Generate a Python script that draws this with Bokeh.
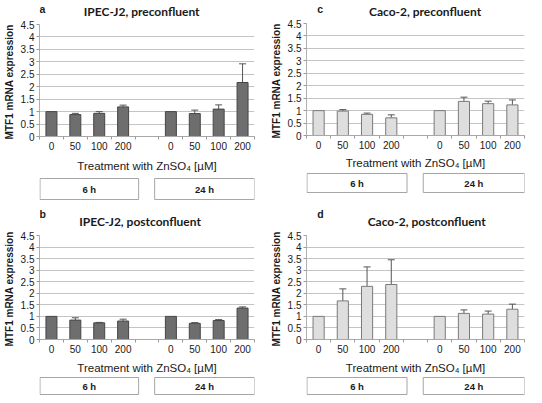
from bokeh.plotting import figure
from bokeh.models import Range1d, FixedTicker, Whisker, ColumnDataSource, TeeHead
from bokeh.layouts import column, row
from bokeh.embed import file_html
from bokeh.resources import INLINE
from bokeh.core.properties import value

# ---- data ----
doses = ["0", "50", "100", "200", "", "0", "50", "100", "200"]
groups = ["6 h", "24 h"]
y_ticks = [0, 0.5, 1, 1.5, 2, 2.5, 3, 3.5, 4, 4.5]
titles = ["IPEC-J2, preconfluent", "Caco-2, preconfluent",
          "IPEC-J2, postconfluent", "Caco-2, postconfluent"]
letters = ["a", "c", "b", "d"]

# order: 6 h (0, 50, 100, 200), 24 h (0, 50, 100, 200)
a_vals = [1.0, 0.88, 0.93, 1.19, 1.0, 0.92, 1.10, 2.17]
a_err = [0.0, 0.05, 0.07, 0.07, 0.0, 0.14, 0.17, 0.75]
c_vals = [1.0, 0.98, 0.85, 0.71, 1.0, 1.37, 1.28, 1.23]
c_err = [0.0, 0.06, 0.05, 0.12, 0.0, 0.17, 0.10, 0.20]
b_vals = [1.0, 0.84, 0.72, 0.80, 1.0, 0.70, 0.82, 1.36]
b_err = [0.0, 0.10, 0.02, 0.08, 0.0, 0.03, 0.04, 0.05]
d_vals = [1.0, 1.67, 2.30, 2.38, 1.0, 1.13, 1.10, 1.31]
d_err = [0.0, 0.52, 0.84, 1.07, 0.0, 0.15, 0.13, 0.22]

TXT = "#1a1a1a"
SANS = "Liberation Sans"
W = 263


def bare(width, height, xr, yr, left=0, right=0):
    p = figure(width=width, height=height, x_range=xr, y_range=yr,
               output_backend="svg", toolbar_location=None,
               min_border_left=left, min_border_right=right,
               min_border_top=0, min_border_bottom=0)
    p.axis.visible = False
    p.grid.visible = False
    p.outline_line_color = None
    return p


def header(letter, title, height, letter_x, title_x, base_y, letter_y):
    p = bare(W, height, Range1d(0, W), Range1d(0, height))
    p.text(x=[letter_x], y=[letter_y], text=[letter], text_align="left",
           text_baseline="alphabetic", text_font=value(SANS),
           text_font_style="bold", text_font_size="10.5px", text_color=TXT)
    p.text(x=[title_x], y=[base_y], text=[title], text_align="center",
           text_baseline="alphabetic", text_font=value("Lato"),
           text_font_style="bold", text_font_size="12px", text_color=TXT)
    return p


def main_panel(vals, errs, fill, line, left, right, top, frame_h, bottom,
               label_standoff):
    cats = list(range(len(doses)))
    xs = [c for c, d in zip(cats, doses) if d != ""]
    p = figure(width=W, height=top + frame_h + bottom,
               x_range=Range1d(-0.5, len(doses) - 0.5),
               y_range=Range1d(0, 4.5),
               output_backend="svg", toolbar_location=None,
               min_border_left=left, min_border_right=right,
               min_border_top=top, min_border_bottom=bottom)
    p.outline_line_color = None

    src = ColumnDataSource(dict(x=xs, top=vals))
    p.vbar(x="x", top="top", bottom=0, width=0.46, source=src,
           fill_color=fill, line_color=line, line_width=1)

    esrc = ColumnDataSource(dict(
        x=[x for x, e in zip(xs, errs) if e > 0],
        lo=[v for v, e in zip(vals, errs) if e > 0],
        hi=[v + e for v, e in zip(vals, errs) if e > 0]))
    w = Whisker(base="x", lower="lo", upper="hi", source=esrc,
                line_color="#555555", line_width=1,
                upper_head=TeeHead(size=7, line_color="#555555", line_width=1),
                lower_head=None)
    p.add_layout(w)

    ya = p.yaxis[0]
    ya.ticker = FixedTicker(ticks=y_ticks)
    ya.minor_tick_line_color = None
    ya.major_tick_out = 3
    ya.major_tick_in = 0
    ya.major_tick_line_color = "#9a9a9a"
    ya.axis_line_color = "#b0b0b0"
    ya.major_label_text_font = SANS
    ya.major_label_text_font_size = "10px"
    ya.major_label_text_color = TXT
    ya.major_label_standoff = 2
    ya.axis_label = "MTF1 mRNA  expression"
    ya.axis_label_text_font = SANS
    ya.axis_label_text_font_style = "bold"
    ya.axis_label_text_font_size = "10px"
    ya.axis_label_text_color = TXT
    ya.axis_label_standoff = 3

    xa = p.xaxis[0]
    xa.ticker = FixedTicker(ticks=cats,
                            minor_ticks=[c - 0.5 for c in cats] + [cats[-1] + 0.5])
    xa.major_label_overrides = {c: d for c, d in zip(cats, doses)}
    xa.major_tick_out = 0
    xa.major_tick_in = 0
    xa.minor_tick_out = 3
    xa.minor_tick_in = 0
    xa.minor_tick_line_color = "#9a9a9a"
    xa.axis_line_color = "#a8a8a8"
    xa.major_label_text_font = SANS
    xa.major_label_text_font_size = "10px"
    xa.major_label_text_color = TXT
    xa.major_label_standoff = 2
    xa.axis_label = "Treatment with ZnSO\u2084 [\u00b5M]"
    xa.axis_label_text_font = SANS
    xa.axis_label_text_font_style = "normal"
    xa.axis_label_text_font_size = "11.5px"
    xa.axis_label_text_color = TXT
    xa.axis_label_standoff = label_standoff

    p.xgrid.grid_line_color = None
    p.ygrid.ticker = FixedTicker(ticks=y_ticks)
    p.ygrid.grid_line_color = "#c4c4c4"
    p.ygrid.grid_line_width = 1
    return p


def box_panel(height, left, right, y0, y1):
    p = bare(W, height, Range1d(-0.5, len(doses) - 0.5), Range1d(0, height),
             left, right)
    src = ColumnDataSource(dict(left=[-0.48, 4.32], right=[3.65, 8.5]))
    p.quad(left="left", right="right", bottom=y0, top=y1, source=src,
           fill_color="white", line_color="#a6a6a6", line_width=1)
    p.text(x=[(-0.48 + 3.65) / 2, (4.32 + 8.5) / 2], y=[(y0 + y1) / 2] * 2,
           text=groups, text_align="center", text_baseline="middle",
           text_font=value(SANS), text_font_style="bold",
           text_font_size="9.5px", text_color=TXT)
    return p


DARK_FILL, DARK_LINE = "#6e6e6e", "#464646"
LIGHT_FILL, LIGHT_LINE = "#dedede", "#7a7a7a"
LL, LR = 37, 9     # left panels borders
RL, RR = 43, 2     # right panels borders

# top row (page y 0..200)
ha = header(letters[0], titles[0], 18, 0, 125, 7, 10)
pa = main_panel(a_vals, a_err, DARK_FILL, DARK_LINE, LL, LR, 6, 112, 38, 7)
ba = box_panel(26, LL, LR, 1, 22)

hc = header(letters[1], titles[1], 18, 13, 143, 7, 10)
pc = main_panel(c_vals, c_err, LIGHT_FILL, LIGHT_LINE, RL, RR, 5, 112, 36, 5)
bc = box_panel(29, RL, RR, 8, 27)

# bottom row (page y 200..395)
hb = header(letters[2], titles[2], 30, 0, 123, 9, 17)
pb = main_panel(b_vals, b_err, DARK_FILL, DARK_LINE, LL, LR, 5, 106, 35, 6)
bb = box_panel(19, LL, LR, 1, 18)

hd = header(letters[3], titles[3], 30, 13, 145, 9, 17)
pd = main_panel(d_vals, d_err, LIGHT_FILL, LIGHT_LINE, RL, RR, 5, 106, 35, 6)
bd = box_panel(19, RL, RR, 1, 18)

layout = column(row(column(ha, pa, ba), column(hc, pc, bc)),
                row(column(hb, pb, bb), column(hd, pd, bd)))

open("out.html", "w").write(file_html(layout, INLINE))
